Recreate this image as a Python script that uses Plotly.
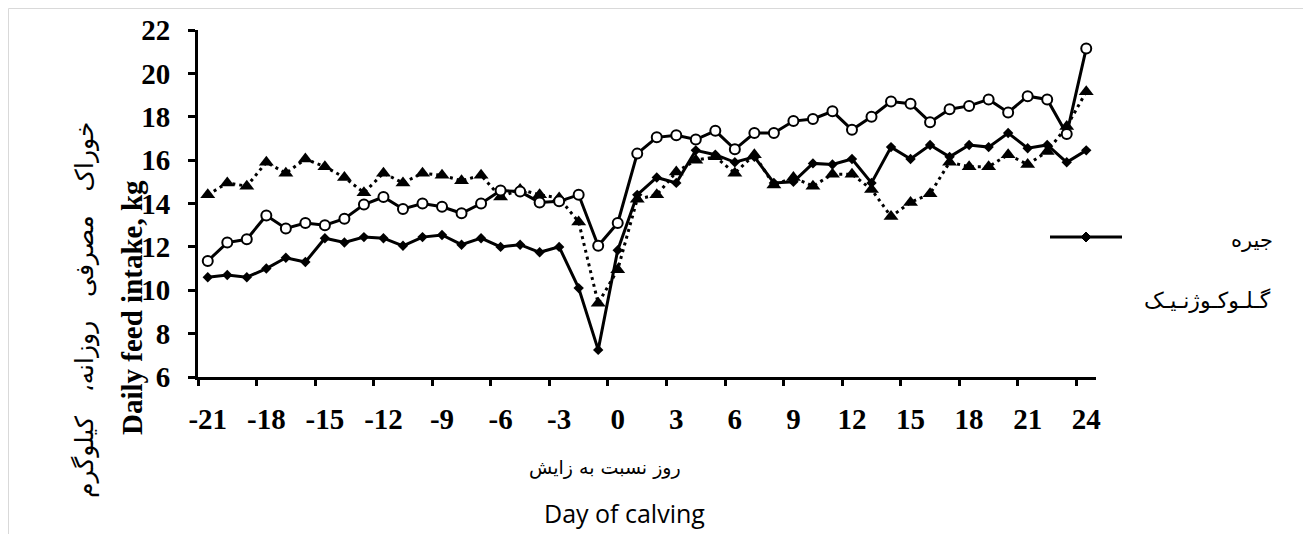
import plotly.graph_objects as go

days = list(range(-21, 25))

ration = [10.6, 10.7, 10.6, 11.0, 11.5, 11.3, 12.4, 12.2, 12.45, 12.4,
          12.05, 12.45, 12.55, 12.1, 12.4, 12.0, 12.1, 11.75, 12.0, 10.1,
          7.25, 11.85, 14.4, 15.2, 14.95, 16.45, 16.25, 15.9, 16.15, 14.95,
          15.0, 15.85, 15.8, 16.05, 14.95, 16.6, 16.05, 16.7, 16.15, 16.7,
          16.6, 17.25, 16.55, 16.7, 15.9, 16.45]

circle_series = [11.35, 12.2, 12.35, 13.45, 12.85, 13.1, 13.0, 13.3, 13.95, 14.3,
                 13.75, 14.0, 13.85, 13.55, 14.0, 14.6, 14.55, 14.05, 14.1, 14.4,
                 12.05, 13.1, 16.3, 17.05, 17.15, 16.95, 17.35, 16.5, 17.25, 17.25,
                 17.8, 17.9, 18.25, 17.4, 18.0, 18.7, 18.6, 17.75, 18.35, 18.5,
                 18.8, 18.2, 18.95, 18.8, 17.2, 21.15]

triangle_series = [14.4, 14.95, 14.8, 15.9, 15.4, 16.05, 15.7, 15.2, 14.5, 15.4,
                   14.95, 15.4, 15.3, 15.05, 15.3, 14.3, 14.65, 14.4, 14.25, 13.15,
                   9.4, 10.95, 14.2, 14.4, 15.45, 16.0, 16.15, 15.4, 16.25, 14.85,
                   15.2, 14.8, 15.35, 15.35, 14.65, 13.4, 14.05, 14.45, 15.9, 15.7,
                   15.7, 16.25, 15.8, 16.4, 17.55, 19.15]

x_tick_vals = list(range(-21, 25, 3))
x_tick_text = ["<b>%d</b>" % v for v in x_tick_vals]
x_boundary_ticks = [v - 0.5 for v in x_tick_vals]
y_tick_vals = list(range(6, 23, 2))
y_tick_text = ["<b>%d</b>" % v for v in y_tick_vals]

OFF = 8  # page body margin
# plot area in screen pixels
SL, SR, ST, SB = 198, 1096, 30, 377
W, H = 1297, 526
L, R, T, B = SL - OFF, SR - OFF, ST - OFF, SB - OFF


def px(x):
    return (x - SL) / (SR - SL)


def py(y):
    return (SB - y) / (SB - ST)


fig = go.Figure()

fig.add_trace(go.Scatter(
    x=days, y=triangle_series, mode="lines+markers", name="triangle",
    line=dict(color="black", width=3, dash="3px,4px"),
    marker=dict(symbol="triangle-up", size=13, color="black"),
    showlegend=False))

fig.add_trace(go.Scatter(
    x=days, y=ration, mode="lines+markers", name="جیره",
    line=dict(color="black", width=3),
    marker=dict(symbol="diamond", size=8, color="black"),
    showlegend=False))

fig.add_trace(go.Scatter(
    x=days, y=circle_series, mode="lines+markers", name="گلوکوژنیک",
    line=dict(color="black", width=3),
    marker=dict(symbol="circle", size=10, color="white",
                line=dict(color="black", width=2)),
    showlegend=False))

fig.add_trace(go.Scatter(x=[None], y=[None], xaxis="x2", showlegend=False))

tick_font = dict(family="Liberation Serif", size=29, color="black")

fig.update_layout(
    width=W, height=H,
    margin=dict(l=L, r=W - R, t=T, b=H - B, autoexpand=False),
    paper_bgcolor="white", plot_bgcolor="white",
    showlegend=False,
    xaxis=dict(range=[-21.5, 24.5], tickvals=x_tick_vals, ticktext=x_tick_text,
               ticks="", showgrid=False, zeroline=False, automargin=False,
               showline=True, linecolor="black", linewidth=3,
               tickfont=tick_font, ticklabelstandoff=14),
    xaxis2=dict(range=[-21.5, 24.5], overlaying="x", anchor="y", side="bottom",
                tickvals=x_boundary_ticks, ticks="outside", ticklen=8,
                tickwidth=3, tickcolor="black", showticklabels=False,
                automargin=False,
                showgrid=False, zeroline=False, showline=False),
    yaxis=dict(range=[6, 22], tickvals=y_tick_vals, ticktext=y_tick_text,
               ticks="outside", ticklen=7, tickwidth=3, tickcolor="black",
               showgrid=False, zeroline=False, showline=True, automargin=False,
               linecolor="black", linewidth=3, tickfont=tick_font,
               ticklabelstandoff=12),
)

annotations = [
    dict(x=px(132), y=py(308), text="<b>Daily feed intake, kg</b>",
         textangle=-90, font=dict(family="Liberation Serif", size=29, color="black")),
    dict(x=px(85), y=py(310), text="خوراک   مصرفی   روزانه،   کیلوگرم",
         textangle=-90, font=dict(family="DejaVu Sans", size=25, color="black")),
    dict(x=px(605), y=py(467), text="روز نسبت به زایش",
         font=dict(family="DejaVu Sans", size=19, color="black")),
    dict(x=px(624), y=py(513), text="Day of calving",
         font=dict(family="Open Sans", size=25, color="black")),
    dict(x=px(1252), y=py(240), text="جیره",
         font=dict(family="DejaVu Sans", size=21, color="black")),
    dict(x=px(1207), y=py(300), text="گـلـوکـوژنـیـک",
         font=dict(family="DejaVu Sans", size=22, color="black")),
]
for a in annotations:
    a.update(xref="paper", yref="paper", showarrow=False,
             xanchor="center", yanchor="middle")
fig.update_layout(annotations=annotations)

d = 5
shapes = [
    dict(type="rect", xref="paper", yref="paper",
         x0=px(8.5), x1=px(1304.5), y0=py(560), y1=py(8.5),
         line=dict(color="#d9d9d9", width=1)),
    dict(type="line", xref="paper", yref="paper",
         x0=px(1050), x1=px(1122), y0=py(237), y1=py(237),
         line=dict(color="black", width=3)),
    dict(type="path", xref="paper", yref="paper",
         path=f"M {px(1086 - d)} {py(237)} L {px(1086)} {py(237 - d)} "
              f"L {px(1086 + d)} {py(237)} L {px(1086)} {py(237 + d)} Z",
         fillcolor="black", line=dict(color="black", width=1)),
]
fig.update_layout(shapes=shapes)

fig.write_html("out.html")
